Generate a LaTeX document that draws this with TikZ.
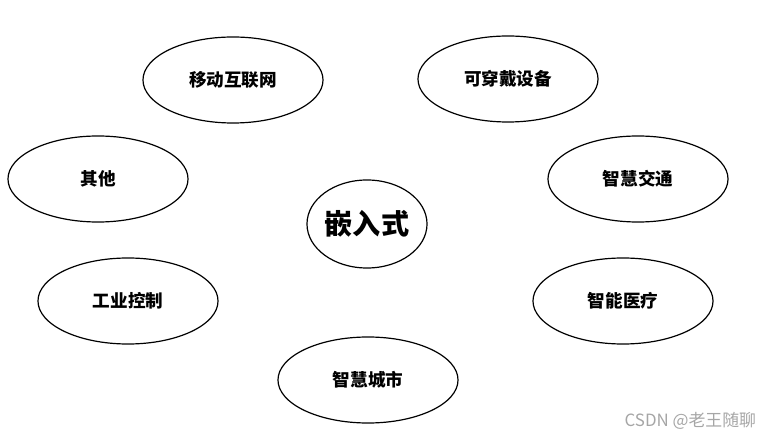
\documentclass[tikz,border=0pt]{standalone}
\usepackage{fontspec}
\newfontfamily\cjk{Noto Sans CJK SC}
\usepackage{tikz}
\usetikzlibrary{shapes.geometric}

\begin{document}
\begin{tikzpicture}[
    x=0.025cm, y=-0.025cm,
    field/.style={draw, ellipse, line width=0.85pt, minimum width=4.5cm, minimum height=2.15cm, inner sep=0pt, font=\cjk\bfseries\fontsize{12.5}{14}\selectfont},
    core/.style={draw, ellipse, line width=0.85pt, minimum width=3cm, minimum height=2.2cm, inner sep=0pt, font=\cjk\bfseries\fontsize{20}{22}\selectfont},
    watermark/.style={text=gray!70, font=\cjk\fontsize{12}{14}\selectfont}
]
\useasboundingbox (0,0) rectangle (775,438);

\node[core] (embed) at (367, 224) {嵌入式};

\node[field] (mobile) at (233, 80) {移动互联网};
\node[field] (wear) at (508, 79) {可穿戴设备};
\node[field] (other) at (98, 179) {其他};
\node[field] (traffic) at (638, 179) {智慧交通};
\node[field] (industry) at (128, 301) {工业控制};
\node[field] (medical) at (623, 301) {智能医疗};
\node[field] (city) at (368, 380) {智慧城市};

\node[watermark, anchor=east] (wm) at (761, 421) {CSDN @老王随聊};

\end{tikzpicture}
\end{document}
